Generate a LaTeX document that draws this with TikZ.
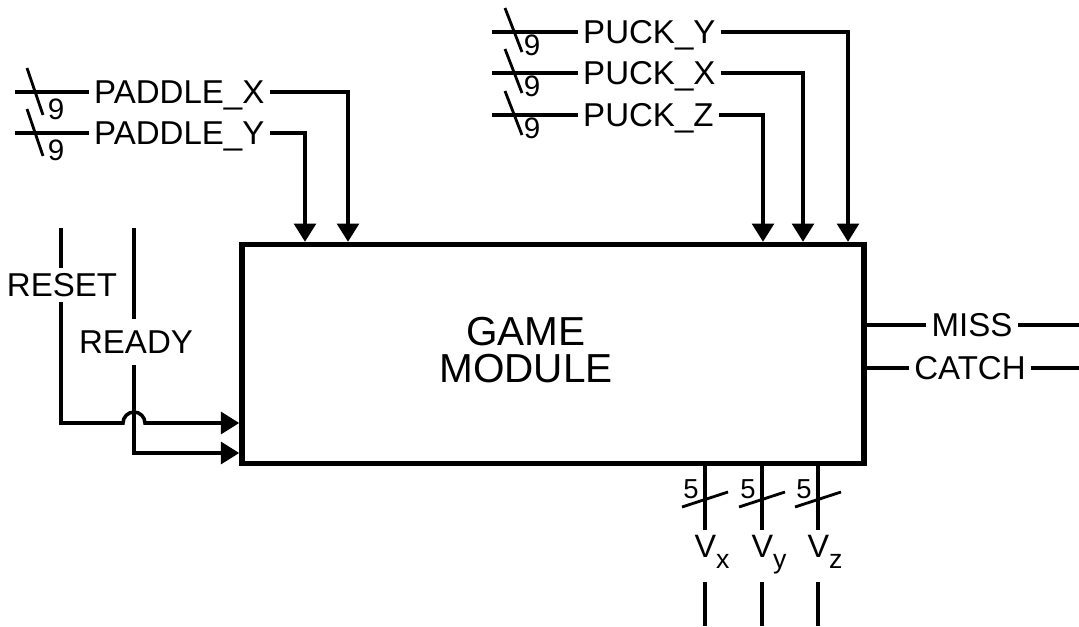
\documentclass[tikz,border=0pt]{standalone}
\usepackage{fontspec}
\setmainfont{Liberation Sans}
\usetikzlibrary{arrows.meta, positioning, calc}
\newcommand{\sigfont}{\fontsize{23.5}{27}\selectfont}
\newcommand{\busfont}{\fontsize{21}{24}\selectfont}
\newcommand{\boxfont}{\fontsize{28.8}{26.3}\selectfont}
\newcommand{\vfont}{\fontsize{23}{26}\selectfont}

\begin{document}
\begin{tikzpicture}[x=0.025cm, y=-0.025cm,
    wire/.style={line width=2.5pt},
    sigarrow/.style={wire, -{Triangle[length=13pt, width=15.5pt]}},
    busmark/.style={line width=2pt},
    sig/.style={font=\sigfont, inner xsep=3.5pt, inner ysep=3.5pt, text height=16.8pt, text depth=0pt},
    buswd/.style={font=\busfont, inner sep=0pt}]
    \useasboundingbox (0,0) rectangle (1079,626);

    % the module
    \node[draw, line width=3.8pt, minimum width=15.55cm, minimum height=5.475cm, inner sep=0pt] (game) at (553,354) {};
    \node[font=\boxfont, align=center] (gtxt) at (526,350) {GAME\\MODULE};

    % paddle inputs
    \foreach \id/\txt/\yy/\dx in {pdx/PADDLE\_X/92/348, pdy/PADDLE\_Y/133/305} {
      \coordinate (i\id) at (15,\yy);
      \coordinate (d\id) at (\dx,0);
      \node[sig, anchor=west] (\id) at (89,\yy) {\txt};
      \draw[wire] (i\id) -- (\id.west);
      \draw[sigarrow] (\id.east) -| (game.north -| d\id);
      \draw[busmark] ($(i\id)+(12,-24)$) -- ++(16,47);
      \node[buswd] (n\id) at ($(i\id)+(41,17)$) {9};
    }

    % puck inputs
    \foreach \id/\txt/\yy/\dx in {puy/PUCK\_Y/32/848, pux/PUCK\_X/73/803, puz/PUCK\_Z/115/763} {
      \coordinate (i\id) at (492,\yy);
      \coordinate (d\id) at (\dx,0);
      \node[sig, anchor=west] (\id) at (578,\yy) {\txt};
      \draw[wire] (i\id) -- (\id.west);
      \draw[sigarrow] (\id.east) -| (game.north -| d\id);
      \draw[busmark] ($(i\id)+(13,-24)$) -- ++(17,44);
      \node[buswd] (n\id) at ($(i\id)+(40,13)$) {9};
    }

    % reset and ready
    \coordinate (rstop) at (61,228);
    \coordinate (rdtop) at (134,228);
    \coordinate (hop) at (134,423);
    \coordinate (rdin) at (134,453);
    \node[sig] (reset) at (62,285) {RESET};
    \node[sig, inner ysep=8pt] (ready) at (136,342) {READY};
    \draw[wire] (rstop) -- (reset.north -| rstop);
    \draw[wire] (rdtop) -- (ready.north -| rdtop);
    \draw[sigarrow] (reset.south -| rstop) |- ([xshift=-7.8pt]hop) arc[start angle=180, end angle=0, radius=7.8pt] -- (game.west |- hop);
    \draw[sigarrow] (ready.south -| rdin) |- (game.west |- rdin);

    % outputs
    \node[sig] (miss) at (972,325) {MISS};
    \node[sig] (catch) at (970,368) {CATCH};
    \coordinate (misso) at (1079,325);
    \coordinate (catcho) at (1079,368);
    \draw[wire] (game.east |- miss) -- (miss.west);
    \draw[wire] (miss.east) -- (misso);
    \draw[wire] (game.east |- catch) -- (catch.west);
    \draw[wire] (catch.east) -- (catcho);

    % velocity buses
    \foreach \id/\dx in {x/705, y/762, z/818} {
      \coordinate (vb\id) at (\dx,530);
      \coordinate (vt\id) at (\dx,582);
      \coordinate (ve\id) at (\dx,626);
      \draw[wire] (game.south -| vb\id) -- (vb\id);
      \draw[busmark] ($(vb\id)+(-23,-23)$) -- ++(46,-15);
      \node[font=\fontsize{19.5}{22}\selectfont, inner sep=0pt] (w\id) at (\dx-14,489) {5};
      \node[font=\vfont, inner sep=0pt, anchor=base] (v\id) at (\dx+7,557) {V\raisebox{-8pt}{\fontsize{19}{22}\selectfont\id}};
      \draw[wire] (vt\id) -- (ve\id);
    }
  \end{tikzpicture}
\end{document}
